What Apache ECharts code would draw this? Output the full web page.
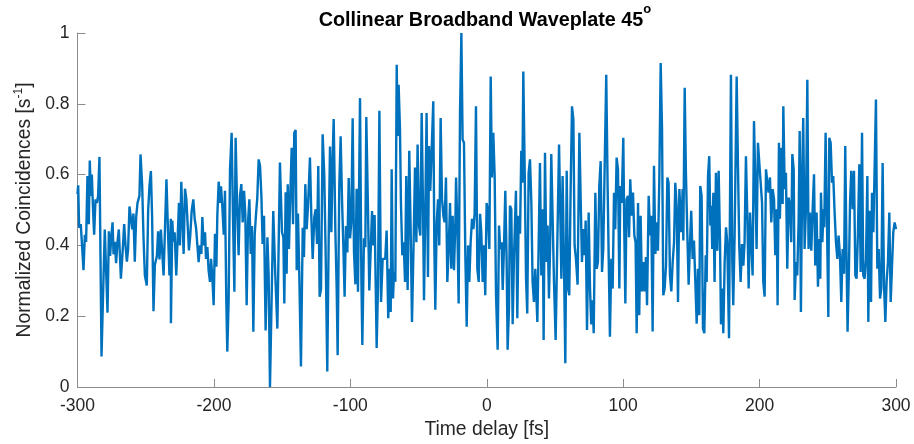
<!DOCTYPE html>
<html>
<head>
<meta charset="utf-8">
<script src="https://cdn.jsdelivr.net/npm/echarts@6/dist/echarts.min.js"></script>
<style>
  html, body { margin: 0; padding: 0; background: #ffffff; }
  #chart { width: 914px; height: 444px; }
</style>
</head>
<body>
<div id="chart"></div>
<script>
// Time delay of each scan step, in femtoseconds
const delayFs = [
  -300.0,-299.5,-298.8,-297.6,-296.6,-295.6,-294.6,-293.7,-292.7,-291.7,-291.0,-290.2,-289.5,-288.5,-287.8,-286.8,-285.8,-284.9,-283.9,-282.4,
  -280.9,-280.0,-279.0,-278.0,-277.0,-276.1,-275.1,-274.3,-273.6,-272.6,-271.7,-270.7,-269.7,-268.2,-266.8,-265.8,-264.8,-263.8,-262.9,-261.9,
  -260.9,-259.9,-259.0,-258.0,-257.0,-256.0,-254.6,-253.8,-252.6,-251.6,-250.6,-249.2,-248.2,-247.2,-246.2,-245.3,-244.3,-243.3,-241.8,-240.9,
  -239.9,-238.9,-237.7,-236.9,-236.0,-234.8,-233.5,-232.6,-231.6,
  -231.5,-230.5,-229.8,-228.8,-227.6,-226.6,-225.6,-224.9,-223.9,-223.2,-222.2,-221.2,-220.2,-219.2,-218.3,-217.3,-216.3,-215.1,-214.1,-213.1,
  -212.2,-211.2,-210.2,-209.2,-208.5,-207.5,-206.5,-205.8,-204.8,-203.9,-202.9,-202.1,-201.2,-200.2,-199.2,-198.2,-197.5,-196.5,-195.5,-194.8,
  -193.8,-192.8,-191.9,-190.9,-190.2,-189.2,-188.2,-187.0,-186.0,-185.0,-184.1,-183.1,-181.9,-180.9,-179.9,-178.9,-177.9,-177.0,-176.0,-175.0,
  -174.0,-173.0,-172.1,-171.1,-170.1,-169.1,-168.2,-167.2,-166.2,-165.2,-164.3,-163.3,-162.1,-160.8,-159.9,-158.9,
  -156.5,-155.0,-153.5,-151.6,-150.1,-149.1,-148.4,-147.4,-146.7,-145.9,-145.0,-144.0,-143.0,-142.0,-141.1,-140.1,-139.3,-138.4,-137.4,-136.2,
  -134.9,-134.0,-133.0,-132.0,-131.0,-129.6,-128.6,-127.6,-126.4,-125.4,-124.4,-123.5,-122.5,-121.5,-120.3,-119.1,-118.1,-116.9,-115.9,-114.9,
  -113.9,-113.0,-112.2,-111.0,-110.0,-109.3,-108.1,-107.1,-106.1,-105.1,-104.2,-103.2,-102.2,-101.2,-100.2,-99.3,-98.3,-97.3,-96.3,-95.4,
  -94.4,-92.9,-91.9,-91.2,-90.0,-89.0,-88.3,-87.1,-86.1,-85.1,-84.1,-83.1,-82.2,-80.7,-79.7,-78.7,
  -77.5,-76.3,-75.3,-74.4,-73.4,-72.2,-71.2,-70.4,-69.7,-68.7,-68.0,-67.0,-66.0,-65.3,-64.6,-63.6,-62.9,-61.9,-60.9,-59.9,
  -59.0,-58.0,-56.8,-55.8,-54.8,-53.6,-52.6,-51.6,-50.7,-49.7,-48.7,-47.7,-46.7,-46.0,-45.0,-44.1,-43.1,-42.3,-41.4,-40.4,
  -39.2,-38.4,-37.7,-36.7,-35.7,-34.8,-33.8,-32.8,-31.8,-30.9,-29.9,-28.9,-27.9,-26.9,-26.0,-25.0,-24.0,-23.0,-22.5,-21.6,
  -20.6,-19.6,-18.6,-17.7,-16.7,-15.7,-14.7,-13.7,-12.8,-11.8,-10.8,-9.8,-8.9,-7.9,-6.9,-5.9,-4.9,
  -4.0,-3.0,-2.0,-1.1,-0.1,0.9,1.9,2.9,3.8,4.8,5.8,6.8,8.0,9.0,9.9,10.9,11.7,12.6,13.6,14.6,
  15.3,16.3,17.0,18.0,19.0,20.0,21.4,22.4,23.4,24.4,25.3,26.1,26.8,27.8,28.8,29.7,30.7,31.7,32.7,33.6,
  34.6,35.6,37.1,38.0,39.0,40.0,41.0,41.7,42.7,43.7,44.6,45.6,46.4,47.3,48.3,49.3,50.5,51.7,53.0,53.9,
  54.7,55.6,56.6,57.6,58.6,59.6,60.5,61.5,62.5,63.5,64.4,65.4,66.6,67.9,
  69.1,69.8,70.8,71.8,72.5,73.5,74.7,75.7,76.6,77.6,78.4,79.6,80.6,81.5,82.5,83.5,84.5,85.4,86.4,87.6,
  88.6,89.4,90.3,91.3,92.3,93.3,94.2,95.2,96.2,97.2,97.9,98.9,100.1,100.8,101.6,102.5,103.5,104.3,105.2,106.2,
  107.2,108.2,109.1,109.9,110.9,111.8,112.8,113.8,114.8,115.7,116.7,117.5,118.7,119.7,120.6,121.6,122.6,123.6,124.5,125.5,
  126.5,127.5,128.5,129.4,130.4,131.4,132.4,133.3,134.3,135.3,136.3,137.3,138.2,139.2,140.2,141.2,
  142.6,143.6,144.1,145.1,146.0,147.0,148.0,149.0,149.9,150.9,151.9,152.9,153.9,154.8,155.8,156.5,157.5,158.5,159.5,160.5,
  161.2,162.2,163.1,163.9,164.6,165.3,166.1,167.0,168.0,169.0,170.0,171.0,171.7,172.7,173.4,174.4,175.4,176.3,177.6,179.0,
  180.0,180.7,181.7,183.2,184.2,185.1,186.1,187.1,188.1,189.0,190.0,191.0,192.0,193.0,193.9,194.9,195.9,196.9,197.8,198.8,
  199.8,200.8,201.8,202.7,203.7,204.7,205.7,206.6,207.6,208.6,209.6,210.6,211.5,212.5,213.2,214.2,
  214.9,215.9,216.9,217.4,218.4,219.3,220.3,221.3,222.3,223.2,224.0,225.0,225.7,226.7,227.6,228.6,229.4,230.3,231.3,232.0,
  233.0,234.0,235.0,235.9,236.9,237.9,238.9,239.9,240.8,241.8,242.8,243.8,244.5,245.0,246.0,246.9,247.4,248.4,249.4,250.4,
  251.1,252.1,253.1,254.0,255.0,256.0,257.0,257.9,258.9,259.9,260.9,261.9,262.8,263.8,264.5,265.5,266.3,267.2,268.2,269.2,
  270.2,271.1,272.1,273.1,274.1,275.1,276.0,277.0,278.0,279.0,279.7,280.7,281.7,282.4,283.4,284.3,285.3,286.3,287.3,288.3,
  289.2,290.2,291.2,292.2,293.1,294.1,295.1,296.1,297.1,298.0,299.0,300.0
];

// Normalized coincidence rate at each delay
const coincidences = [
  0.545,0.57,0.45,0.46,0.455,0.33,0.43,0.41,0.596,0.46,0.64,0.54,0.60,0.49,0.43,0.53,0.52,0.54,0.65,0.086,
  0.315,0.445,0.325,0.21,0.44,0.37,0.43,0.465,0.375,0.41,0.35,0.41,0.445,0.306,0.39,0.46,0.40,0.354,0.39,0.51,
  0.515,0.445,0.49,0.354,0.48,0.52,0.54,0.657,0.57,0.42,0.315,0.287,0.50,0.57,0.61,0.48,0.214,0.345,0.37,0.44,
  0.36,0.445,0.44,0.315,0.43,0.587,0.42,0.315,0.475,
  0.18,0.47,0.41,0.437,0.315,0.42,0.52,0.40,0.58,0.49,0.376,0.56,0.53,0.455,0.386,0.43,0.498,0.53,0.475,0.45,
  0.446,0.353,0.40,0.376,0.48,0.40,0.437,0.362,0.395,0.33,0.297,0.362,0.315,0.231,0.433,0.34,0.484,0.58,0.52,0.567,
  0.507,0.43,0.554,0.24,0.10,0.245,0.615,0.718,0.475,0.269,0.704,0.53,0.372,0.54,0.573,0.465,0.554,0.49,0.231,0.465,
  0.53,0.376,0.455,0.156,0.43,0.49,0.535,0.643,0.625,0.54,0.404,0.484,0.16,0.423,0.32,0.0,
  0.497,0.315,0.165,0.634,0.437,0.423,0.236,0.55,0.32,0.573,0.39,0.545,0.676,0.46,0.718,0.726,0.33,0.49,0.315,0.058,
  0.45,0.367,0.573,0.446,0.512,0.648,0.484,0.362,0.48,0.502,0.404,0.624,0.255,0.277,0.714,0.597,0.38,0.044,0.41,0.679,
  0.437,0.643,0.757,0.446,0.277,0.09,0.567,0.708,0.53,0.395,0.255,0.455,0.38,0.59,0.42,0.465,0.759,0.38,0.29,0.56,
  0.269,0.816,0.306,0.119,0.42,0.395,0.763,0.512,0.273,0.269,0.497,0.40,0.486,0.11,0.288,0.78,
  0.24,0.362,0.365,0.362,0.442,0.194,0.334,0.212,0.615,0.25,0.325,0.297,0.91,0.709,0.854,0.727,0.52,0.372,0.409,0.297,
  0.596,0.274,0.667,0.446,0.184,0.409,0.62,0.409,0.685,0.456,0.428,0.774,0.502,0.245,0.512,0.774,0.311,0.681,0.554,0.667,
  0.807,0.39,0.218,0.465,0.53,0.40,0.76,0.53,0.484,0.465,0.592,0.297,0.39,0.52,0.334,0.484,0.33,0.465,0.592,0.465,
  0.236,0.774,1.0,0.699,0.69,0.372,0.17,0.40,0.297,0.409,0.475,0.446,0.489,0.793,0.334,0.297,0.489,
  0.437,0.297,0.40,0.259,0.52,0.498,0.39,0.877,0.592,0.718,0.596,0.259,0.105,0.456,0.39,0.409,0.274,0.39,0.554,0.353,
  0.105,0.222,0.512,0.502,0.177,0.372,0.554,0.194,0.484,0.433,0.667,0.577,0.891,0.615,0.306,0.208,0.605,0.643,0.52,0.297,
  0.24,0.334,0.184,0.39,0.633,0.315,0.502,0.133,0.662,0.353,0.456,0.25,0.39,0.658,0.475,0.297,0.133,0.40,0.685,0.493,
  0.306,0.596,0.353,0.067,0.611,0.278,0.259,0.559,0.793,0.755,0.40,0.362,0.289,0.718,
  0.484,0.353,0.446,0.372,0.47,0.161,0.493,0.278,0.177,0.245,0.152,0.549,0.334,0.353,0.568,0.638,0.325,0.39,0.39,0.882,
  0.568,0.362,0.142,0.362,0.278,0.549,0.446,0.648,0.615,0.278,0.568,0.52,0.704,0.446,0.236,0.53,0.54,0.423,0.587,0.484,
  0.549,0.428,0.409,0.152,0.52,0.203,0.484,0.27,0.353,0.27,0.367,0.231,0.54,0.428,0.484,0.157,0.625,0.376,0.465,0.385,
  0.587,0.915,0.727,0.259,0.278,0.343,0.592,0.577,0.315,0.27,0.353,0.409,0.577,0.512,0.24,0.559,
  0.437,0.559,0.414,0.845,0.605,0.437,0.289,0.409,0.498,0.362,0.414,0.297,0.179,0.334,0.203,0.568,0.54,0.165,0.152,0.372,
  0.297,0.596,0.652,0.456,0.512,0.39,0.549,0.297,0.605,0.385,0.611,0.409,0.177,0.278,0.152,0.353,0.451,0.409,0.138,0.882,
  0.353,0.231,0.428,0.877,0.615,0.40,0.297,0.404,0.343,0.409,0.652,0.484,0.278,0.493,0.409,0.315,0.751,0.577,0.39,0.69,
  0.633,0.577,0.52,0.297,0.255,0.615,0.577,0.549,0.592,0.465,0.559,0.53,0.372,0.502,0.231,0.69,
  0.475,0.676,0.517,0.793,0.559,0.605,0.334,0.535,0.512,0.409,0.658,0.615,0.246,0.353,0.315,0.465,0.723,0.212,0.615,0.76,
  0.39,0.502,0.868,0.39,0.493,0.385,0.502,0.601,0.343,0.493,0.283,0.418,0.306,0.549,0.409,0.502,0.451,0.718,0.465,0.198,
  0.704,0.69,0.577,0.596,0.493,0.409,0.362,0.428,0.372,0.24,0.39,0.32,0.681,0.353,0.156,0.334,0.52,0.611,0.502,0.611,
  0.315,0.306,0.437,0.629,0.325,0.718,0.315,0.306,0.362,0.596,0.184,0.498,0.24,0.549,0.437,0.433,0.812,0.334,0.39,0.25,
  0.278,0.633,0.289,0.184,0.297,0.353,0.493,0.24,0.343,0.437,0.465,0.446
];

// Axis ranges and tick spacing
const delayAxis = { min: -300, max: 300, step: 100 };
const rateAxis = { min: 0, max: 1, step: 0.2 };

// Texts
const titleMain = 'Collinear Broadband Waveplate 45';
const titleSup = 'o';
const xName = 'Time delay [fs]';
const yNameParts = ['Normalized Coincidences [s', '-1', ']'];

const FONT = '"Liberation Sans", Arial, Helvetica, sans-serif';
const LINE_BLUE = '#0072BD';
const AXIS_GRAY = '#8c8c8c';
const LABEL_DARK = '#262626';

const points = delayFs.map((t, i) => [t, coincidences[i]]);

const chart = echarts.init(document.getElementById('chart'), null, { renderer: 'canvas' });

chart.setOption({
  animation: false,
  backgroundColor: '#ffffff',
  title: {
    text: '{t|' + titleMain + '}{s|' + titleSup + '}',
    left: 485,
    top: 3,
    textAlign: 'center',
    padding: 0,
    textStyle: {
      rich: {
        t: { fontFamily: FONT, fontSize: 19.8, fontWeight: 'bold', color: '#000000', lineHeight: 28, verticalAlign: 'bottom' },
        s: { fontFamily: FONT, fontSize: 13, fontWeight: 'bold', color: '#000000', lineHeight: 13, verticalAlign: 'top' }
      }
    }
  },
  grid: { left: 77.5, right: 18, top: 33, bottom: 55, containLabel: false },
  xAxis: {
    type: 'value',
    min: delayAxis.min,
    max: delayAxis.max,
    interval: delayAxis.step,
    name: xName,
    nameLocation: 'middle',
    nameGap: 33,
    nameTextStyle: { fontFamily: FONT, fontSize: 19.3, color: LABEL_DARK },
    axisLine: { show: true, onZero: false, lineStyle: { color: AXIS_GRAY, width: 1 } },
    axisTick: { show: true, inside: true, length: 8, lineStyle: { color: AXIS_GRAY, width: 1 } },
    axisLabel: { fontFamily: FONT, fontSize: 17.5, color: LABEL_DARK, margin: 10 },
    splitLine: { show: false }
  },
  yAxis: {
    type: 'value',
    min: rateAxis.min,
    max: rateAxis.max,
    interval: rateAxis.step,
    name: '{n|' + yNameParts[0] + '}{s|' + yNameParts[1] + '}{n|' + yNameParts[2] + '}',
    nameLocation: 'middle',
    nameGap: 33,
    nameRotate: 90,
    nameTextStyle: {
      rich: {
        n: { fontFamily: FONT, fontSize: 19.3, color: LABEL_DARK, lineHeight: 24 },
        s: { fontFamily: FONT, fontSize: 12, color: LABEL_DARK, lineHeight: 12, verticalAlign: 'top' }
      }
    },
    axisLine: { show: true, onZero: false, lineStyle: { color: AXIS_GRAY, width: 1 } },
    axisTick: { show: true, inside: true, length: 8, lineStyle: { color: AXIS_GRAY, width: 1 } },
    axisLabel: { fontFamily: FONT, fontSize: 17.5, color: LABEL_DARK, margin: 8 },
    splitLine: { show: false }
  },
  series: [{
    type: 'line',
    data: points,
    showSymbol: false,
    symbol: 'none',
    lineStyle: { color: LINE_BLUE, width: 2.4 },
    itemStyle: { color: LINE_BLUE },
    clip: true
  }]
});
</script>
</body>
</html>
